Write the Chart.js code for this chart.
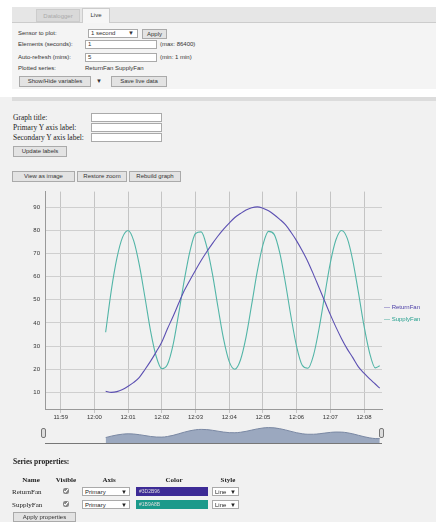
<!DOCTYPE html>
<html>
<head>
<meta charset="utf-8">
<script src="https://cdn.jsdelivr.net/npm/chart.js@4.4.1/dist/chart.umd.min.js"></script>
<style>
  body { margin:0; width:436px; height:522px; background:#f1f1f1; overflow:hidden; position:relative;
         font-family:"Liberation Sans", Arial, sans-serif; font-size:6px; color:#333; }
  .a { position:absolute; white-space:nowrap; }
  .btn { position:absolute; background:#e3e3e3; border:1px solid #aaa; box-sizing:border-box;
         font-size:6px; line-height:8px; text-align:center; color:#333; }
  .inp { position:absolute; background:#fff; border:1px solid #aaa; box-sizing:border-box;
         font-size:6px; line-height:7px; padding-left:2px; }
  .serif { font-family:"Liberation Serif", "Times New Roman", serif; font-size:7.5px; color:#222; }
  th, td { padding:0; }
  input[type=checkbox] { width:6px; height:6px; margin:0; filter:grayscale(1) brightness(1.3); }
</style>
</head>
<body>
<!-- top tab panel -->
<div class="a" style="left:0;top:0;width:436px;height:97px;background:#fff"></div>
<div class="a" style="left:12px;top:7px;width:424px;height:15px;background:#e6e6e6;border-bottom:1px solid #ccc"></div>
<div class="a" style="left:36px;top:9px;width:44px;height:13px;background:#d9d9d9;border:1px solid #ccc;box-sizing:border-box;color:#aaa;text-align:center;line-height:12px">Datalogger</div>
<div class="a" style="left:82px;top:8px;width:28px;height:15px;background:#f6f6f6;border:1px solid #ccc;border-bottom:none;box-sizing:border-box;text-align:center;line-height:13px">Live</div>
<div class="a" style="left:12px;top:23px;width:424px;height:66px;background:#f4f4f4"></div>

<div class="a" style="left:18px;top:30px">Sensor to plot:</div>
<div class="inp" style="left:88px;top:29px;width:50px;height:9px">1 second<span style="position:absolute;right:3px">&#9660;</span></div>
<div class="btn" style="left:142px;top:29px;width:25px;height:10px">Apply</div>

<div class="a" style="left:18px;top:41px">Elements (seconds):</div>
<div class="inp" style="left:85px;top:40px;width:72px;height:9px">1</div>
<div class="a" style="left:160px;top:41px">(max: 86400)</div>

<div class="a" style="left:18px;top:54px">Auto-refresh (mins):</div>
<div class="inp" style="left:85px;top:53px;width:72px;height:9px">5</div>
<div class="a" style="left:160px;top:54px">(min: 1 min)</div>

<div class="a" style="left:18px;top:65px">Plotted series:</div>
<div class="a" style="left:85px;top:65px">ReturnFan SupplyFan</div>

<div class="btn" style="left:19px;top:76px;width:72px;height:11px">Show/Hide variables</div>
<div class="btn" style="left:94px;top:76px;width:10px;height:11px;background:#f4f4f4;border-color:#f4f4f4">&#9660;</div>
<div class="btn" style="left:111px;top:76px;width:56px;height:11px">Save live data</div>

<div class="a" style="left:12px;top:97px;width:424px;height:4px;background:#dcdcdc"></div>

<!-- labels section -->
<div class="a serif" style="left:13px;top:113px">Graph title:</div>
<div class="inp" style="left:91px;top:113px;width:71px;height:9px"></div>
<div class="a serif" style="left:13px;top:123px">Primary Y axis label:</div>
<div class="inp" style="left:91px;top:123px;width:71px;height:9px"></div>
<div class="a serif" style="left:13px;top:133px">Secondary Y axis label:</div>
<div class="inp" style="left:91px;top:133px;width:71px;height:9px"></div>
<div class="btn" style="left:13px;top:146px;width:54px;height:11px">Update labels</div>

<div class="btn" style="left:12px;top:171px;width:63px;height:11px">View as image</div>
<div class="btn" style="left:77px;top:171px;width:50px;height:11px">Restore zoom</div>
<div class="btn" style="left:129px;top:171px;width:52px;height:11px">Rebuild graph</div>

<!-- chart -->
<canvas id="mainChart" class="a" style="left:0;top:183px" width="436" height="240"></canvas>
<canvas id="rangeChart" class="a" style="left:0;top:423px" width="436" height="24"></canvas>
<div class="a" style="left:45px;top:443px;width:337px;height:1px;background:#777"></div>
<div class="a" style="left:41px;top:428px;width:5px;height:10px;background:#ddd;border:1px solid #777;border-radius:2px;box-sizing:border-box"></div>
<div class="a" style="left:379px;top:428px;width:5px;height:10px;background:#ddd;border:1px solid #777;border-radius:2px;box-sizing:border-box"></div>

<div class="a" style="left:384px;top:304px;color:#4a3ca6">&mdash; ReturnFan</div>
<div class="a" style="left:384px;top:316px;color:#26a08f">&mdash; SupplyFan</div>

<!-- series properties -->
<div class="a serif" style="left:13px;top:457px;font-weight:bold">Series properties:</div>
<table class="a serif" style="left:12px;top:475px;border-collapse:collapse;font-size:7px">
  <tr style="height:10px;font-weight:bold">
    <th style="width:38px">Name</th><th style="width:32px">Visible</th><th style="width:54px">Axis</th>
    <th style="width:76px">Color</th><th style="width:32px">Style</th>
  </tr>
  <tr style="height:13px">
    <td>ReturnFan</td>
    <td style="text-align:center"><input type="checkbox" checked></td>
    <td><div style="position:relative;background:#fff;border:1px solid #aaa;height:9px;width:48px;font-family:'Liberation Sans';font-size:6px;line-height:8px;padding-left:2px;box-sizing:border-box">Primary<span style="position:absolute;right:2px">&#9660;</span></div></td>
    <td><div style="background:#3d2b96;height:9px;width:72px;color:#ddd;font-family:'Liberation Sans';font-size:5px;line-height:9px;padding-left:3px;box-sizing:border-box">#3D2B96</div></td>
    <td><div style="position:relative;background:#fff;border:1px solid #aaa;height:9px;width:27px;font-family:'Liberation Sans';font-size:6px;line-height:8px;padding-left:2px;box-sizing:border-box">Line<span style="position:absolute;right:2px">&#9660;</span></div></td>
  </tr>
  <tr style="height:13px">
    <td>SupplyFan</td>
    <td style="text-align:center"><input type="checkbox" checked></td>
    <td><div style="position:relative;background:#fff;border:1px solid #aaa;height:9px;width:48px;font-family:'Liberation Sans';font-size:6px;line-height:8px;padding-left:2px;box-sizing:border-box">Primary<span style="position:absolute;right:2px">&#9660;</span></div></td>
    <td><div style="background:#1b9a8b;height:9px;width:72px;color:#ddd;font-family:'Liberation Sans';font-size:5px;line-height:9px;padding-left:3px;box-sizing:border-box">#1B9A8B</div></td>
    <td><div style="position:relative;background:#fff;border:1px solid #aaa;height:9px;width:27px;font-family:'Liberation Sans';font-size:6px;line-height:8px;padding-left:2px;box-sizing:border-box">Line<span style="position:absolute;right:2px">&#9660;</span></div></td>
  </tr>
</table>
<div class="btn" style="left:13px;top:512px;width:63px;height:10px">Apply properties</div>

<script>
/* ============================================================
   DATA (seconds after 12:00:00)
============================================================ */
const timeSec = [20, 30, 40, 50, 60, 70, 80, 90, 100, 110, 120, 130, 140, 150, 160, 170, 180, 190, 200,
                 210, 220, 230, 240, 250, 260, 270, 280, 290, 300, 310, 320, 330, 340, 350, 360, 370, 380,
                 390, 400, 410, 420, 430, 440, 450, 460, 470, 480, 490, 500, 508];

const returnFan = [10.5, 10, 10.3, 11.2, 12.6, 14.3, 16.5, 19.9, 23.5, 27.5, 31.8, 37.5, 42.8, 48.5, 54,
                   58.5, 62.8, 67, 70.8, 74.3, 77.6, 80.6, 83.2, 85.6, 87.3, 88.8, 89.8, 90.2, 89.6, 88.5,
                   86.8, 84.8, 82.5, 79.2, 75.5, 71.2, 66.5, 61, 55.2, 49.4, 43.6, 38.2, 33.2, 28.8, 25,
                   21, 18.3, 15.8, 13.6, 11.8];

const supplyFan = [36, 54, 68, 77, 80, 75.5, 65, 51, 36.5, 25.5, 20.2, 22, 30.5, 44, 58.5, 71, 78.7, 79.4,
                   73, 61.3, 46.8, 33, 23.3, 20, 24, 34, 48, 62.4, 73.8, 79.6, 78.3, 70.3, 57.4, 42.7,
                   29.8, 21.7, 20.4, 26, 37.6, 52, 66, 76, 80, 76.7, 67, 53.2, 38.7, 27, 20.6, 21.5];

const xTickSec = [-60, 0, 60, 120, 180, 240, 300, 360, 420, 480];
const xTickLabels = ["11:59", "12:00", "12:01", "12:02", "12:03", "12:04", "12:05", "12:06", "12:07", "12:08"];
const yTicks = [10, 20, 30, 40, 50, 60, 70, 80, 90];

const RETURN_COLOR = "#5c50b2";
const SUPPLY_COLOR = "#52b5a7";

function points(values) {
    return timeSec.map((t, i) => ({ x: t, y: values[i] }));
}

/* ============================================================
   Main line chart
============================================================ */
new Chart(document.getElementById("mainChart"), {
    type: "line",
    data: {
        datasets: [
            { label: "ReturnFan", data: points(returnFan), borderColor: RETURN_COLOR,
              borderWidth: 1.1, pointRadius: 0, cubicInterpolationMode: "monotone" },
            { label: "SupplyFan", data: points(supplyFan), borderColor: SUPPLY_COLOR,
              borderWidth: 1.1, pointRadius: 0, cubicInterpolationMode: "monotone" }
        ]
    },
    options: {
        responsive: false,
        animation: false,
        layout: { padding: { top: 4, right: 54, left: 0, bottom: 0 } },
        plugins: { legend: { display: false }, tooltip: { enabled: false } },
        scales: {
            x: {
                type: "linear", min: -88, max: 512,
                afterBuildTicks: s => { s.ticks = xTickSec.map(v => ({ value: v })); },
                afterFit: s => { s.height = 14; },
                ticks: {
                    autoSkip: false, maxRotation: 0, padding: 1,
                    color: "#333", font: { size: 6, family: "Liberation Sans" },
                    callback: v => xTickLabels[xTickSec.indexOf(v)]
                },
                grid: { color: "#c4c4c4", tickLength: 4 },
                border: { color: "#999" }
            },
            y: {
                min: 2.8, max: 96.8,
                afterBuildTicks: s => { s.ticks = yTicks.map(v => ({ value: v })); },
                afterFit: s => { s.width = 45; },
                ticks: { padding: 5, color: "#333", font: { size: 6, family: "Liberation Sans" } },
                grid: { color: "#cfcfcf", drawTicks: false },
                border: { color: "#999" }
            }
        }
    }
});

/* ============================================================
   Range selector (mean of both series)
============================================================ */
const rangeMean = returnFan.map((v, i) => (v + supplyFan[i]) / 2);

new Chart(document.getElementById("rangeChart"), {
    type: "line",
    data: {
        datasets: [{
            data: points(rangeMean), borderColor: "#7a88a3", borderWidth: 1,
            backgroundColor: "#9ba8bf", fill: "start", pointRadius: 0,
            cubicInterpolationMode: "monotone"
        }]
    },
    options: {
        responsive: false,
        animation: false,
        layout: { padding: { top: 2, right: 54, left: 45, bottom: 4 } },
        plugins: { legend: { display: false }, tooltip: { enabled: false } },
        scales: {
            x: { type: "linear", min: -88, max: 512, display: false },
            y: { min: -10, max: 100, display: false }
        }
    }
});
</script>
</body>
</html>
